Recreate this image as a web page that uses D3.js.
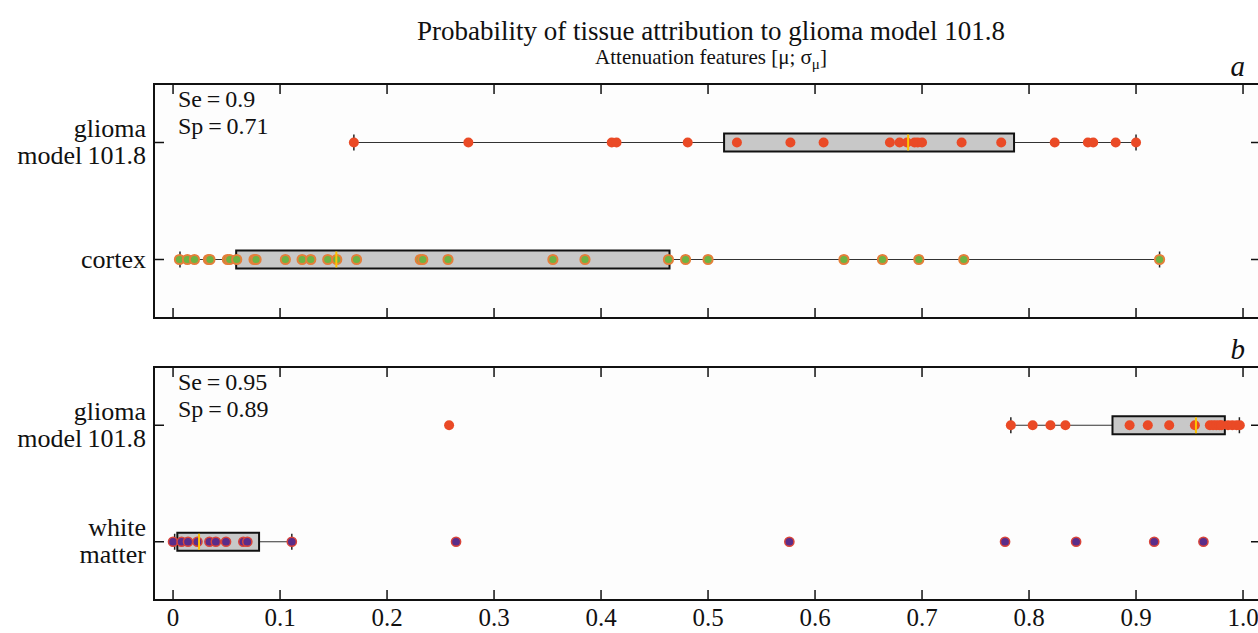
<!DOCTYPE html>
<html>
<head>
<meta charset="utf-8">
<script src="https://cdn.jsdelivr.net/npm/d3@7"></script>
<style>
  body { margin: 0; background: #fff; }
  svg text { font-family: "Liberation Serif", "Times New Roman", serif; fill: #111; }
</style>
</head>
<body>
<div id="chart"></div>
<script>
// values
const xTicks = [0, 0.1, 0.2, 0.3, 0.4, 0.5, 0.6, 0.7, 0.8, 0.9, 1.0]
const xTickLabels = ['0', '0.1', '0.2', '0.3', '0.4', '0.5', '0.6', '0.7', '0.8', '0.9', '1.0']

// panel a
const gliomaA = [0.169, 0.276, 0.41, 0.4145, 0.481, 0.527, 0.577, 0.608, 0.670, 0.679, 0.686, 0.693, 0.696, 0.70,
  0.737, 0.774, 0.824, 0.855, 0.860, 0.881, 0.90]
const cortexA = [0.006, 0.0134, 0.02, 0.033, 0.0345, 0.0508, 0.053, 0.0595, 0.0757, 0.0776, 0.105, 0.1206, 0.1287,
  0.1446, 0.153, 0.1715, 0.231, 0.2334, 0.257, 0.355, 0.385, 0.463, 0.479, 0.5, 0.627, 0.663, 0.697, 0.739, 0.922]
// box stats: [whiskerLow, q1, median, q3, whiskerHigh]
const gliomaABox = [0.169, 0.515, 0.687, 0.786, 0.90]
const cortexABox = [0.0065, 0.059, 0.1526, 0.464, 0.922]

// panel b
const gliomaB = [0.258, 0.783, 0.8034, 0.820, 0.834, 0.894, 0.911, 0.931, 0.955, 0.969, 0.972, 0.975, 0.978, 0.980,
  0.986, 0.990, 0.994, 0.997]
const whiteB = [0.0, 0.008, 0.014, 0.0228, 0.034, 0.040, 0.0495, 0.0657, 0.0694, 0.111, 0.2645, 0.576, 0.7776,
  0.844, 0.917, 0.963]
const gliomaBBox = [0.783, 0.878, 0.956, 0.983, 0.9966]
const whiteBBox = [0.0015, 0.004, 0.0243, 0.0804, 0.111]

const panels = [
  { letter: 'a', se: '0.9', sp: '0.71', top: 84, bottom: 318,
    rows: [
      { key: 'glioma', label: ['glioma', 'model\u2009101.8'], values: gliomaA, box: gliomaABox, kind: 'glioma' },
      { key: 'cortex', label: ['cortex'], values: cortexA, box: cortexABox, kind: 'cortex' }
    ] },
  { letter: 'b', se: '0.95', sp: '0.89', top: 367, bottom: 600,
    rows: [
      { key: 'glioma', label: ['glioma', 'model\u2009101.8'], values: gliomaB, box: gliomaBBox, kind: 'glioma' },
      { key: 'white', label: ['white', 'matter'], values: whiteB, box: whiteBBox, kind: 'white' }
    ] }
]

const pointStyle = {
  glioma: { fill: '#ea4a26', stroke: '#ea4a26', r: 5, sw: 0 },
  cortex: { fill: '#6db443', stroke: '#e47f3a', r: 4.6, sw: 2 },
  white: { fill: '#5a2d8a', stroke: '#d9443a', r: 4.6, sw: 1.5 }
}

const width = 1258, height = 633
const left = 154, right = 1261
const fs = '26px'

const svg = d3.select('#chart').append('svg')
  .attr('width', width)
  .attr('height', height)

const x = d3.scaleLinear().domain([-0.0178, 1.0168]).range([left, right])

svg.append('text')
  .attr('x', 711).attr('y', 40)
  .attr('text-anchor', 'middle')
  .style('font-size', '27px')
  .text('Probability of tissue attribution to glioma model 101.8')

const sub = svg.append('text')
  .attr('x', 711).attr('y', 64)
  .attr('text-anchor', 'middle')
  .style('font-size', '21px')
sub.append('tspan').text('Attenuation features [\u03bc; \u03c3')
sub.append('tspan').attr('dy', 5).style('font-size', '15px').text('\u03bc')
sub.append('tspan').attr('dy', -5).text(']')

panels.forEach(p => {
  const g = svg.append('g')
  const y = d3.scalePoint()
    .domain(p.rows.map(r => r.key))
    .range([p.top, p.bottom])
    .padding(0.5)

  g.append('rect')
    .attr('x', left).attr('y', p.top)
    .attr('width', right - left).attr('height', p.bottom - p.top)
    .attr('fill', '#fdfdfd')
    .attr('stroke', '#111').attr('stroke-width', 2)

  // x ticks, top and bottom, pointing inward
  g.selectAll('.tb').data(xTicks).enter().append('line')
    .attr('x1', d => x(d)).attr('x2', d => x(d))
    .attr('y1', p.bottom).attr('y2', p.bottom - 10)
    .attr('stroke', '#111').attr('stroke-width', 1.5)
  g.selectAll('.tt').data(xTicks).enter().append('line')
    .attr('x1', d => x(d)).attr('x2', d => x(d))
    .attr('y1', p.top).attr('y2', p.top + 10)
    .attr('stroke', '#111').attr('stroke-width', 1.5)

  // y ticks left and right
  p.rows.forEach(r => {
    g.append('line').attr('x1', left).attr('x2', left + 10)
      .attr('y1', y(r.key)).attr('y2', y(r.key))
      .attr('stroke', '#111').attr('stroke-width', 1.5)
    g.append('line').attr('x1', right - 10).attr('x2', right)
      .attr('y1', y(r.key)).attr('y2', y(r.key))
      .attr('stroke', '#111').attr('stroke-width', 1.5)

    const lab = g.append('text')
      .attr('text-anchor', 'end')
      .style('font-size', fs)
    const n = r.label.length
    r.label.forEach((t, i) => {
      lab.append('tspan')
        .attr('x', 146)
        .attr('y', y(r.key) + 8 + (i - (n - 1) / 2) * 27)
        .text(t)
    })
  })

  // box plots
  p.rows.forEach(r => {
    const cy = y(r.key)
    const [lo, q1, med, q3, hi] = r.box
    const bh = 18
    g.append('line')
      .attr('x1', x(lo)).attr('x2', x(hi))
      .attr('y1', cy).attr('y2', cy)
      .attr('stroke', '#333').attr('stroke-width', 1.2)
    ;[lo, hi].forEach(v => {
      g.append('line')
        .attr('x1', x(v)).attr('x2', x(v))
        .attr('y1', cy - 8).attr('y2', cy + 8)
        .attr('stroke', '#222').attr('stroke-width', 1.5)
    })
    g.append('rect')
      .attr('x', x(q1)).attr('y', cy - bh / 2)
      .attr('width', x(q3) - x(q1)).attr('height', bh)
      .attr('fill', '#c8c8c8')
      .attr('stroke', '#111').attr('stroke-width', 2)

    const st = pointStyle[r.kind]
    g.selectAll(null).data(r.values).enter().append('circle')
      .attr('cx', d => x(d)).attr('cy', cy)
      .attr('r', st.r)
      .attr('fill', st.fill)
      .attr('stroke', st.stroke).attr('stroke-width', st.sw)

    g.append('line')
      .attr('x1', x(med)).attr('x2', x(med))
      .attr('y1', cy - bh / 2 + 1).attr('y2', cy + bh / 2 - 1)
      .attr('stroke', '#ffc400').attr('stroke-width', 2)
  })

  const se = g.append('text').style('font-size', '24px')
  se.append('tspan').attr('x', 178).attr('y', p.top + 23).text('Se\u2009=\u2009' + p.se)
  se.append('tspan').attr('x', 178).attr('y', p.top + 50).text('Sp\u2009=\u2009' + p.sp)

  svg.append('text')
    .attr('x', 1245).attr('y', p.top - 8)
    .attr('text-anchor', 'end')
    .style('font-size', '29px')
    .style('font-style', 'italic')
    .text(p.letter)
})

// x tick labels under panel b
svg.selectAll('.xl').data(xTicks).enter().append('text')
  .attr('x', d => x(d)).attr('y', 626)
  .attr('text-anchor', 'middle')
  .style('font-size', '25px')
  .text((d, i) => xTickLabels[i])
</script>
</body>
</html>
